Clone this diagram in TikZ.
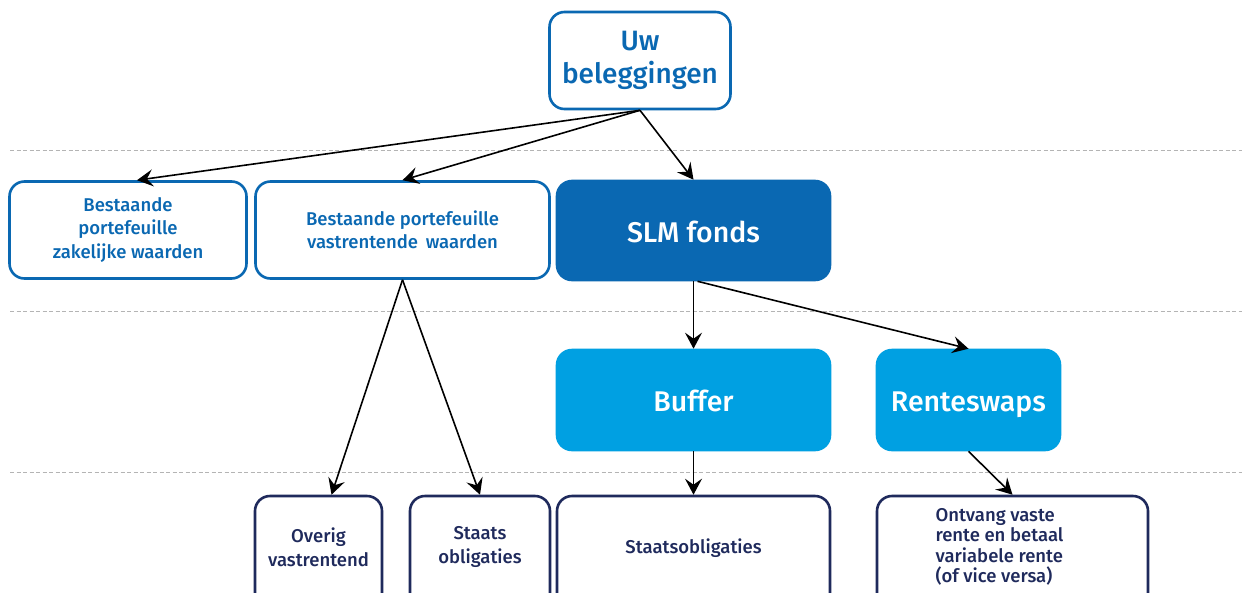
\documentclass[tikz,border=0pt]{standalone}
\usepackage{fontspec}
\setmainfont{Fira Sans}[UprightFont=* Medium]
\usetikzlibrary{arrows.meta}
\definecolor{ecblue}{HTML}{0A68B2}
\definecolor{eclight}{HTML}{00A0E2}
\definecolor{ecnavy}{HTML}{1F2A5C}
\definecolor{guide}{HTML}{B4B4B4}
\begin{document}
\begin{tikzpicture}[x=1pt,y=-1pt,
  base/.style={rounded corners=15pt, line width=2.6pt, align=center, inner sep=0pt},
  topbox/.style={base, draw=ecblue, fill=white, text=ecblue, font=\fontsize{28}{33}\selectfont},
  midbox/.style={base, draw=ecblue, fill=white, text=ecblue, font=\fontsize{18.5}{23.5}\selectfont},
  fundbox/.style={base, draw=ecblue, fill=ecblue, text=white, font=\fontsize{28.5}{30}\selectfont, text height=24pt, text depth=1pt},
  subbox/.style={base, draw=eclight, fill=eclight, text=white, font=\fontsize{28.5}{30}\selectfont, text height=24pt, text depth=1pt},
  leafbox/.style={base, draw=ecnavy, fill=white, text=ecnavy},
  leaftext/.style={text=ecnavy, font=\fontsize{18.5}{24}\selectfont, align=center},
  guideline/.style={guide, line width=1pt, dash pattern=on 4pt off 2.5pt},
  link/.style={line width=1.6pt, -{Stealth[length=16pt,width=17pt,inset=6pt]}}
]
\path[use as bounding box, clip] (0,0) rectangle (1242,592);
\fill[white] (0,0) rectangle (1242,592);

% dashed level separators
\draw[guideline] (10,150) -- (1242,150);
\draw[guideline] (10,311) -- (1242,311);
\draw[guideline] (10,472) -- (1242,472);

% level 0
\node[topbox, minimum width=181pt, minimum height=97pt] (u) at (640,60.5) {Uw\\beleggingen};

% level 1
\node[midbox, minimum width=237pt, minimum height=97pt] (zak) at (128,230) {Bestaande\\portefeuille\\zakelijke waarden};
\node[midbox, minimum width=294pt, minimum height=97pt] (vast) at (402.5,230) {Bestaande portefeuille\\vastrentende\, waarden};
\node[fundbox, minimum width=273pt, minimum height=99pt] (slm) at (693.5,230.5) {SLM fonds};

% level 2
\node[subbox, minimum width=273pt, minimum height=100pt] (buf) at (693.5,400) {Buffer};
\node[subbox, minimum width=183pt, minimum height=100pt] (swap) at (968.5,400) {Renteswaps};

% level 3 (runs past the lower edge)
\node[leafbox, minimum width=127pt, minimum height=120pt] (ovr) at (318.5,556) {};
\node[leafbox, minimum width=140pt, minimum height=120pt] (sta) at (480,556) {};
\node[leafbox, minimum width=273pt, minimum height=120pt] (sob) at (693.5,556) {};
\node[leafbox, minimum width=271pt, minimum height=120pt] (ont) at (1012.5,556) {};
\node[leaftext] at (ovr.center |- 0,547) {Overig\\vastrentend};
\node[leaftext] at (sta.center |- 0,547) {Staats\\obligaties};
\node[leaftext] at (sob.center |- 0,548) {Staatsobligaties};
\node[leaftext, font=\fontsize{18.5}{20.5}\selectfont, align=left, anchor=west] at (932,547) {Ontvang vaste\\rente en betaal\\variabele rente\\(of vice versa)};

% connectors
\draw[link] (u.south) -- ([xshift=9pt]zak.north);
\draw[link] (u.south) -- (vast.north);
\draw[link] (u.south) -- (slm.north);
\draw[link] (vast.south) -- ([xshift=13pt]ovr.north);
\draw[link] (vast.south) -- (sta.north);
\draw[link] (slm.south) -- (buf.north);
\draw[link] ([xshift=4pt]slm.south) -- (swap.north);
\draw[link] (buf.south) -- (sob.north);
\draw[link] (swap.south) -- (ont.north);
\end{tikzpicture}
\end{document}
